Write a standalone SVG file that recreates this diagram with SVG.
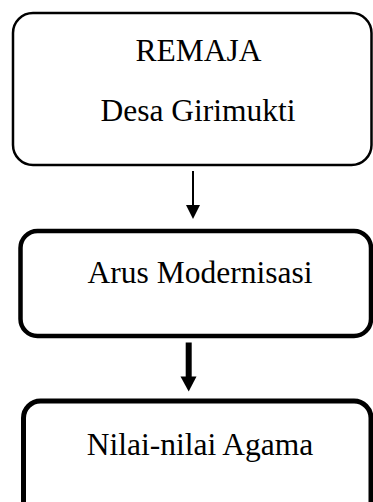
<svg xmlns="http://www.w3.org/2000/svg" width="373" height="502" viewBox="0 0 373 502">
  <style>
    .box { fill: #ffffff; stroke: #000000; }
    .lbl { font-family: "Liberation Serif", "Times New Roman", serif; font-size: 31.5px; fill: #000000; text-anchor: middle; }
  </style>
  <rect x="0" y="0" width="373" height="502" fill="#ffffff"/>
  <g id="node-remaja">
    <rect class="box" x="13" y="13" width="358.5" height="152" rx="20" ry="20" stroke-width="2.5"/>
    <text class="lbl" x="198.5" y="60.5">REMAJA</text>
    <text class="lbl" x="198" y="121">Desa Girimukti</text>
  </g>
  <g id="node-arus">
    <rect class="box" x="20.5" y="231" width="350.5" height="105" rx="17" ry="17" stroke-width="4.5"/>
    <text class="lbl" x="200" y="283">Arus Modernisasi</text>
  </g>
  <g id="node-nilai">
    <rect class="box" x="23.5" y="401" width="347.5" height="125" rx="17" ry="17" stroke-width="5"/>
    <text class="lbl" x="200" y="455">Nilai-nilai Agama</text>
  </g>
  <g id="connectors">
    <line x1="193" y1="171" x2="193" y2="206" stroke="#000" stroke-width="2"/>
    <polygon points="186,205 200,205 193,219" fill="#000"/>
    <rect x="185.7" y="342.5" width="6" height="35" fill="#000"/>
    <polygon points="180.5,376.5 196.5,376.5 188.7,391.5" fill="#000"/>
  </g>
</svg>
